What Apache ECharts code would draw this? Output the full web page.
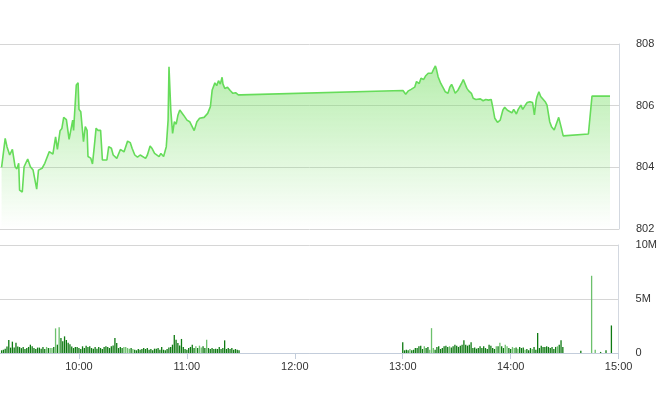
<!DOCTYPE html>
<html><head><meta charset="utf-8">
<script src="https://cdn.jsdelivr.net/npm/echarts@6/dist/echarts.min.js"></script>
<style>html,body{margin:0;padding:0;background:#fff}#c{width:660px;height:412px}</style>
</head><body><div id="c"></div>
<script>
const priceTimes = [
"09:17","09:19","09:20","09:21:30","09:23","09:24:30","09:25:30","09:26:30","09:27","09:28:30",
"09:29:30","09:31:30","09:33","09:34:30","09:35:30","09:36:30","09:37:30","09:39:30","09:41","09:43:30",
"09:45:30","09:47","09:48","09:49:30","09:50:30","09:51:30","09:53","09:54:30","09:56:30","09:57",
"09:58:30","09:59:30","10:00","10:01","10:02:30","10:03:30","10:04:30","10:05","10:06","10:06:30",
"10:07:30","10:08:30","10:09:30","10:10:30","10:12","10:13","10:14","10:15:30","10:16:30","10:18",
"10:19","10:21","10:23","10:24","10:25","10:27","10:28:30","10:29:30","10:31","10:32:30",
"10:34","10:35","10:37","10:38","10:39:30","10:40:30","10:42","10:43","10:44:30","10:45:30",
"10:47","10:48","10:48:30","10:49:30","10:50","10:51","10:52","10:53","10:54","10:55",
"10:56","10:58","11:00","11:01:30","11:02:30","11:04","11:05:30","11:07","11:09:30","11:11:30",
"11:13","11:14","11:15:30","11:16:30","11:17:30","11:18:30","11:19:30","11:20","11:21","11:22:30",
"11:24","11:25:30","11:27","11:28:30","11:30",
"13:00","13:01:30","13:03","13:04:30","13:06:30","13:07:30","13:09","13:10","13:11:30","13:12:30",
"13:14","13:15","13:16","13:17","13:18","13:18:30","13:19:30","13:21","13:22:30","13:23:30",
"13:25","13:26","13:27","13:28","13:29","13:30:30","13:31:30","13:32:30","13:33:30","13:34:30",
"13:35:30","13:36:30","13:38","13:39","13:40:30","13:41:30","13:43","13:43:30","13:44:30","13:46",
"13:47:30","13:49","13:50","13:51","13:52:30","13:54","13:55:30","13:56:30","13:58","13:59",
"14:00:30","14:01:30","14:03","14:04","14:05:30","14:06:30","14:08","14:09","14:10:30","14:12",
"14:13","14:14","14:14:30","14:15:30","14:16:30","14:17:30","14:19","14:20","14:21:30","14:22:30",
"14:24","14:25","14:26:30","14:27","14:28","14:29","14:30","14:43","14:45","14:55"
];
const priceValues = [
804.00,804.94,804.67,804.40,804.58,804.02,803.95,804.13,803.26,803.20,
804.02,804.27,804.02,803.91,803.85,803.29,803.91,803.97,804.13,804.51,
804.43,804.99,804.58,805.19,805.26,805.62,805.55,804.91,805.53,805.20,
806.67,806.74,805.88,805.80,804.83,805.32,805.20,804.35,804.40,804.30,
804.11,804.67,805.27,805.20,805.20,804.24,804.27,804.24,804.67,804.62,
804.40,804.29,804.58,804.55,804.50,804.85,804.80,804.62,804.40,804.33,
804.40,804.35,804.29,804.40,804.69,804.62,804.45,804.40,804.35,804.45,
804.35,804.40,804.67,805.53,807.26,805.86,805.10,805.48,805.40,805.70,
805.86,805.70,805.53,805.48,805.53,805.19,805.48,805.59,805.62,805.75,
805.97,806.51,806.74,806.65,806.81,806.70,806.92,806.70,806.56,806.60,
806.49,806.40,806.42,806.35,806.35,
806.49,806.37,806.48,806.53,806.60,806.78,806.72,806.89,806.85,806.96,
807.05,807.10,807.05,807.18,807.29,807.20,806.94,806.72,806.56,806.45,
806.40,806.60,806.69,806.56,806.40,806.50,806.52,806.72,806.85,806.83,
806.56,806.48,806.40,806.24,806.20,806.24,806.22,806.24,806.16,806.20,
806.18,806.20,805.91,805.59,805.46,805.53,805.86,805.95,805.85,805.88,
805.77,805.88,805.73,805.88,806.02,805.88,806.02,806.10,806.13,806.10,
805.70,806.18,806.30,806.45,806.30,806.35,806.13,806.02,805.48,805.32,
805.21,805.27,805.62,805.58,805.27,805.02,805.08,805.08,806.31,806.31
];

// volume in millions, one bar per minute
const volMorningStart = "09:17";
const volMorning = [
0.25,0.3,0.4,0.6,1.2,0.5,1.05,0.5,0.95,0.6,
0.55,0.45,0.55,0.37,0.46,0.56,0.77,0.62,0.46,0.37,
0.5,0.5,0.4,0.56,0.37,0.56,0.46,0.46,0.46,0.56,
2.28,0.77,2.38,1.39,1.08,1.54,1.2,0.95,0.8,0.6,
0.46,0.56,0.56,0.46,0.37,0.62,0.46,0.68,0.56,0.62,
0.46,0.4,0.56,0.4,0.56,0.46,0.37,0.56,0.62,0.56,
0.46,0.62,0.7,1.39,0.93,0.46,0.56,0.46,0.56,0.56,
0.46,0.4,0.46,0.37,0.3,0.25,0.37,0.3,0.37,0.46,
0.37,0.46,0.3,0.37,0.25,0.4,0.4,0.46,0.3,0.56,
0.3,0.25,0.37,0.5,0.56,0.77,1.67,1.23,0.93,0.7,
1.3,0.56,0.37,0.3,0.46,0.56,0.77,0.46,0.62,0.46,
0.68,0.5,0.62,0.46,1.23,0.46,0.37,0.46,0.37,0.4,
0.37,0.56,0.37,0.46,1.17,0.37,0.46,0.37,0.46,0.3,
0.37,0.3,0.25
];
const volAfternoonStart = "13:00";
const volAfternoon = [
1.0,0.25,0.3,0.25,0.37,0.25,0.3,0.46,0.46,0.62,
0.68,0.37,0.62,0.46,0.56,0.3,2.3,0.46,0.3,0.56,
0.62,0.37,0.46,0.62,0.68,0.56,0.62,0.5,0.62,0.77,
0.68,0.56,0.68,0.77,1.17,0.77,0.68,0.77,1.0,0.46,
0.5,0.4,0.46,0.62,0.46,0.62,0.46,0.37,0.77,0.68,
0.46,0.37,0.62,0.62,0.95,0.62,0.46,0.77,0.62,0.46,
0.37,0.56,0.46,0.5,0.4,0.56,0.46,0.5,0.3,0.37,
0.25,0.46,0.37,0.56,0.3,1.85,0.46,0.68,0.56,0.56,
0.62,0.56,0.46,0.56,0.37,0.56,0.62,0.77,1.17,0.56
];
const volLateTimes = ["14:39","14:45","14:47","14:50","14:53","14:56"];
const volLate = [0.2,7.15,0.3,0.1,0.25,2.55];
const lightBarTimes = ["09:42","09:44","09:45","09:47","09:49","10:25","10:26","10:27","10:28","10:30",
"11:05","11:07","11:08","11:11","13:04","13:12","13:15","13:16","13:17","13:26","13:52","13:54",
"13:57","13:58","14:01","14:02","14:04","14:08","14:12","14:26","14:45","14:47"];

const priceTicks = [802, 808, 2];      // min, max, step
const volTicks = [0, 10, 5];           // millions
const hourTicks = ["10:00","11:00","12:00","13:00","14:00","15:00"];
const axisStart = "09:16:07", axisEnd = "15:00";

function toMin(s){const p=s.split(':').map(Number);return p[0]*60+p[1]+(p[2]||0)/60;}
function fmtMin(m){const h=Math.floor(m/60),mm=Math.round(m-h*60);return h+':'+String(mm).padStart(2,'0');}

const DARK='#0e7a12', LIGHT='#6cc06c';
const lightSet = new Set(lightBarTimes.map(toMin));
const volData = [];
function pushBar(m,v){volData.push({value:[m,v],itemStyle:{color:lightSet.has(m)?LIGHT:DARK}});}
volMorning.forEach((v,i)=>pushBar(toMin(volMorningStart)+i,v));
volAfternoon.forEach((v,i)=>pushBar(toMin(volAfternoonStart)+i,v));
volLate.forEach((v,i)=>pushBar(toMin(volLateTimes[i]),v));
const priceData = priceTimes.map((t,i)=>[toMin(t),priceValues[i]]);
const hourVals = hourTicks.map(toMin);

const FONT='Liberation Sans';
const xCommon = {type:'value',min:toMin(axisStart),max:toMin(axisEnd)};
const chart = echarts.init(document.getElementById('c'),null,{renderer:'canvas'});
chart.setOption({
  animation:false,
  grid:[
    {left:0,right:41,top:44,height:185},
    {left:0,right:41,top:245,height:108}
  ],
  xAxis:[
    Object.assign({gridIndex:0,show:false},xCommon),
    Object.assign({gridIndex:1,
      axisLine:{lineStyle:{color:'#c3cddb'}},
      axisTick:{length:6,lineStyle:{color:'#c3cddb'},customValues:hourVals},
      axisLabel:{formatter:fmtMin,color:'#333',fontFamily:FONT,fontSize:11,margin:8,customValues:hourVals},
      splitLine:{show:false}},xCommon)
  ],
  yAxis:[
    {gridIndex:0,type:'value',position:'right',min:priceTicks[0],max:priceTicks[1],interval:priceTicks[2],
     axisLine:{show:true,lineStyle:{color:'#d3d8e0'}},axisTick:{show:false},
     axisLabel:{color:'#333',fontFamily:FONT,fontSize:11,margin:17},
     splitLine:{lineStyle:{color:'#d6d6d6'}}},
    {gridIndex:1,type:'value',position:'right',min:volTicks[0],max:volTicks[1],interval:volTicks[2],
     axisLine:{show:true,lineStyle:{color:'#d3d8e0'}},axisTick:{show:false},
     axisLabel:{color:'#333',fontFamily:FONT,fontSize:11,margin:17,formatter:v=>v===0?'0':v+'M'},
     splitLine:{lineStyle:{color:'#d6d6d6'}}}
  ],
  series:[
    {type:'line',xAxisIndex:0,yAxisIndex:0,data:priceData,symbol:'none',
     lineStyle:{color:'#66dc5a',width:1.6},
     areaStyle:{color:new echarts.graphic.LinearGradient(0,0,0,1,[
       {offset:0,color:'rgba(118,222,100,0.75)'},{offset:1,color:'rgba(118,222,100,0.0)'}])}},
    {type:'bar',xAxisIndex:1,yAxisIndex:1,data:volData,barWidth:1.3}
  ]
});
</script></body></html>
